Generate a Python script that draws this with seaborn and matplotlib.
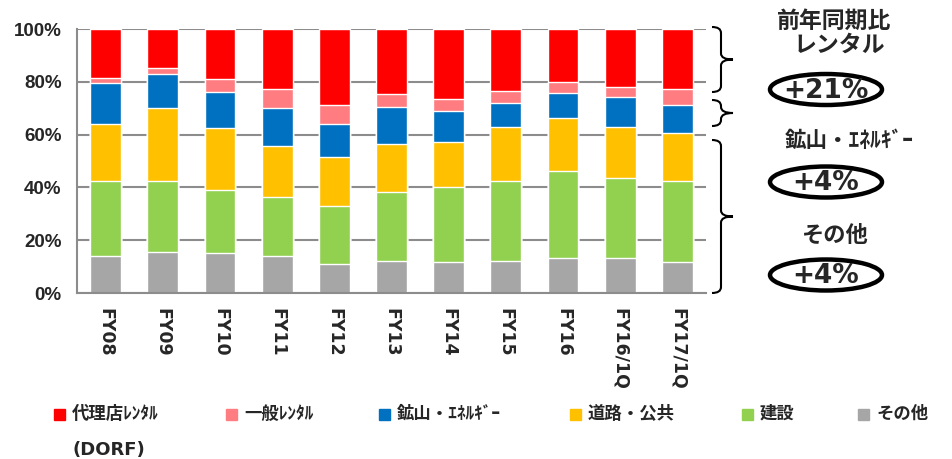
import numpy as np
import pandas as pd
import seaborn as sns
import matplotlib.pyplot as plt
from matplotlib.patches import Ellipse, Rectangle, PathPatch
from matplotlib.path import Path

# share of sales by segment (%)
years = ['FY08', 'FY09', 'FY10', 'FY11', 'FY12', 'FY13', 'FY14', 'FY15', 'FY16', 'FY16/1Q', 'FY17/1Q']
other = [14.2, 15.6, 15.1, 13.9, 11.1, 12.3, 11.8, 12.3, 13.4, 13.4, 11.8]
construction = [28.3, 26.9, 24.0, 22.6, 21.9, 25.9, 28.3, 30.2, 32.9, 30.3, 30.6]
road = [21.4, 27.5, 23.3, 19.1, 18.4, 18.1, 17.2, 20.2, 19.8, 19.3, 18.1]
mining = [15.5, 12.8, 13.8, 14.3, 12.5, 14.0, 11.8, 9.3, 9.8, 11.4, 10.9]
general_rental = [2.0, 2.5, 4.9, 7.2, 7.2, 5.0, 4.3, 4.6, 4.1, 3.6, 5.9]
dealer_rental = [18.6, 14.7, 18.9, 22.9, 28.9, 24.7, 26.6, 23.4, 20.0, 22.0, 22.7]

seg_names = ['その他', '建設', '道路・公共', '鉱山・ｴﾈﾙｷﾞｰ', '一般ﾚﾝﾀﾙ', '代理店ﾚﾝﾀﾙ']
seg_colors = ['#A6A6A6', '#92D050', '#FFC000', '#0070C0', '#FF7C80', '#FF0000']

df = pd.DataFrame({'year': years, 'その他': other, '建設': construction, '道路・公共': road,
                   '鉱山・ｴﾈﾙｷﾞｰ': mining, '一般ﾚﾝﾀﾙ': general_rental, '代理店ﾚﾝﾀﾙ': dealer_rental})
cum = df[seg_names].cumsum(axis=1)
cum['year'] = df['year']

sns.set_style('white')
plt.rcParams['font.family'] = ['Noto Sans CJK JP', 'DejaVu Sans']

W, H = 952, 459
fig = plt.figure(figsize=(W / 100, H / 100), dpi=100)
ax = fig.add_axes([77 / W, 1 - 293 / H, (706 - 77) / W, (293 - 29) / H])

# stacked bars: draw cumulative totals from the top segment down
for name, col in zip(seg_names[::-1], seg_colors[::-1]):
    sns.barplot(data=cum, x='year', y=name, color=col, saturation=1, width=0.54,
                edgecolor='white', linewidth=1, errorbar=None, ax=ax)

ax.set_xlim(-0.5, len(years) - 0.5)
ax.set_ylim(0, 100)
ax.set_xlabel('')
ax.set_ylabel('')
ax.set_axisbelow(True)
ax.yaxis.grid(True, color='#8c8c8c', lw=1.5)
for s in ['top', 'right']:
    ax.spines[s].set_visible(False)
for s in ['left', 'bottom']:
    ax.spines[s].set_color('#8c8c8c')
    ax.spines[s].set_linewidth(1.5)

ax.set_yticks(range(0, 101, 20))
ax.set_yticklabels([f'{v}%' for v in range(0, 101, 20)], family='Liberation Sans',
                   weight='bold', size=13.5)
ax.tick_params(axis='y', length=5, width=1.5, color='#8c8c8c', pad=6)

ax.set_xticks(range(len(years)))
ax.set_xticklabels(years, rotation=-90, family='DejaVu Sans', weight='bold', size=12.5)
ax.set_xticks(np.arange(-0.5, len(years), 1), minor=True)
ax.tick_params(axis='x', which='major', length=0, pad=11)
ax.tick_params(axis='x', which='minor', length=5, width=1.2, color='#bfbfbf')


def fx(x):
    return x / W


def fy(y):
    return 1 - y / H


def brace(top, bot, x0=712, xv=721, xt=733, r=6):
    mid = (top + bot) / 2
    pts = [(x0, top), (xv, top), (xv, top + r),
           (xv, mid - r), (xv, mid), (xt, mid),
           (xv, mid), (xv, mid + r),
           (xv, bot - r), (xv, bot), (x0, bot)]
    codes = [Path.MOVETO, Path.CURVE3, Path.CURVE3,
             Path.LINETO, Path.CURVE3, Path.CURVE3,
             Path.CURVE3, Path.CURVE3,
             Path.LINETO, Path.CURVE3, Path.CURVE3]
    p = Path([(fx(a), fy(b)) for a, b in pts], codes)
    fig.add_artist(PathPatch(p, fill=False, lw=1.5, ec='black', transform=fig.transFigure))


brace(27, 92)
brace(100, 126)
brace(140, 293)

fig.text(fx(834), fy(21), '前年同期比', ha='center', va='center', size=16.5, weight='bold')
fig.text(fx(839), fy(45), 'レンタル', ha='center', va='center', size=16.5, weight='bold')
fig.text(fx(849), fy(140), '鉱山・ｴﾈﾙｷﾞｰ', ha='center', va='center', size=15.5, weight='bold')
fig.text(fx(834), fy(235), 'その他', ha='center', va='center', size=16, weight='bold')

for cy, label in [(89.5, '+21%'), (182, '+4%'), (275, '+4%')]:
    fig.add_artist(Ellipse((fx(826), fy(cy)), 112 / W, 31 / H, fill=False, lw=3.2,
                           ec='black', transform=fig.transFigure))
    fig.text(fx(826), fy(cy + 1), label, ha='center', va='center', size=19,
             weight='bold', family='DejaVu Sans')

# legend row along the bottom
leg_x = [54, 226, 379, 570, 742, 858]
for x, name, col in zip(leg_x, seg_names[::-1], seg_colors[::-1]):
    fig.add_artist(Rectangle((fx(x), fy(420)), 11 / W, 11 / H, color=col,
                             transform=fig.transFigure))
    fig.text(fx(x + 18), fy(414), name, ha='left', va='center', size=12.5, weight='bold')
fig.text(fx(72), fy(450), '(DORF)', ha='left', va='center', size=13, weight='bold',
         family='DejaVu Sans')

fig.savefig('out.png', dpi=100)
